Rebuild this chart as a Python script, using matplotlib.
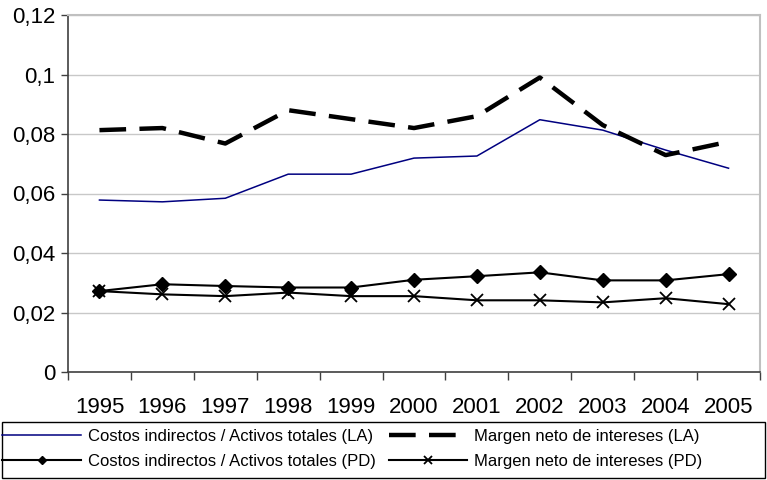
import numpy as np
import matplotlib.pyplot as plt
from matplotlib.patches import Rectangle
from matplotlib.ticker import FuncFormatter

# Data
years = ['1995', '1996', '1997', '1998', '1999', '2000', '2001', '2002', '2003', '2004', '2005']
costos_la = [0.0578, 0.0572, 0.0584, 0.0665, 0.0665, 0.0719, 0.0726, 0.0848, 0.0813, 0.0746, 0.0685]
margen_la = [0.0813, 0.0820, 0.0768, 0.0880, 0.0850, 0.0820, 0.0860, 0.0990, 0.0830, 0.0729, 0.0774]
costos_pd = [0.0272, 0.0295, 0.0289, 0.0284, 0.0284, 0.0310, 0.0322, 0.0335, 0.0308, 0.0308, 0.0329]
margen_pd = [0.0272, 0.0261, 0.0255, 0.0267, 0.0255, 0.0255, 0.0241, 0.0241, 0.0234, 0.0248, 0.0228]

plt.rcParams['font.family'] = ['Liberation Sans', 'DejaVu Sans']

fig = plt.figure(figsize=(7.67, 4.8), dpi=100)
ax = fig.add_axes([68 / 767, 1 - 372 / 480, 692 / 767, 357 / 480])

x = np.arange(len(years))
l1, = ax.plot(x, costos_la, color='#000080', lw=1.1,
              label='Costos indirectos / Activos totales (LA)')
l2, = ax.plot(x, margen_la, color='black', lw=3.2, linestyle=(0, (6, 3)),
              label='Margen neto de intereses (LA)')
l3, = ax.plot(x, costos_pd, color='black', lw=1.5, marker='D', markersize=7,
              label='Costos indirectos / Activos totales (PD)')
l4, = ax.plot(x, margen_pd, color='black', lw=1.5, marker='x', markersize=9,
              markeredgewidth=1.3, label='Margen neto de intereses (PD)')

ax.set_xlim(-0.5, len(years) - 0.5)
ax.set_ylim(0, 0.12)
ax.set_yticks(np.arange(0, 0.121, 0.02))
ax.yaxis.set_major_formatter(FuncFormatter(
    lambda v, p: '0' if abs(v) < 1e-9 else ('%g' % round(v, 2)).replace('.', ',')))
ax.set_xticks(x)
ax.set_xticklabels(years)
ax.set_xticks(np.arange(-0.5, len(years)), minor=True)
ax.tick_params(axis='x', which='major', length=0, pad=18, labelsize=16)
ax.tick_params(axis='x', which='minor', length=6, width=1, color='#404040')
ax.tick_params(axis='y', length=5, width=1, color='#404040', labelsize=16, pad=4)

ax.grid(axis='y', color='#c8c8c8', lw=1)
ax.set_axisbelow(True)
for s in ['top', 'right']:
    ax.spines[s].set_color('#c0c0c0')
    ax.spines[s].set_linewidth(1.5)
for s in ['left', 'bottom']:
    ax.spines[s].set_color('#404040')
    ax.spines[s].set_linewidth(1.2)

# legend box spanning the figure width
fig.patches.append(Rectangle((2 / 767, 2 / 480), 763 / 767, 56 / 480,
                             transform=fig.transFigure, fill=False,
                             edgecolor='black', lw=1.0))
fig.legend(handles=[l1, l3, l2, l4], ncol=2, loc='center left',
           bbox_to_anchor=(0.0, 31 / 480), frameon=False,
           fontsize=12, handlelength=4.7, handletextpad=0.4,
           columnspacing=0.8, labelspacing=0.6, borderaxespad=0,
           borderpad=0.15, markerscale=0.65)

fig.savefig('out.png', dpi=100)
